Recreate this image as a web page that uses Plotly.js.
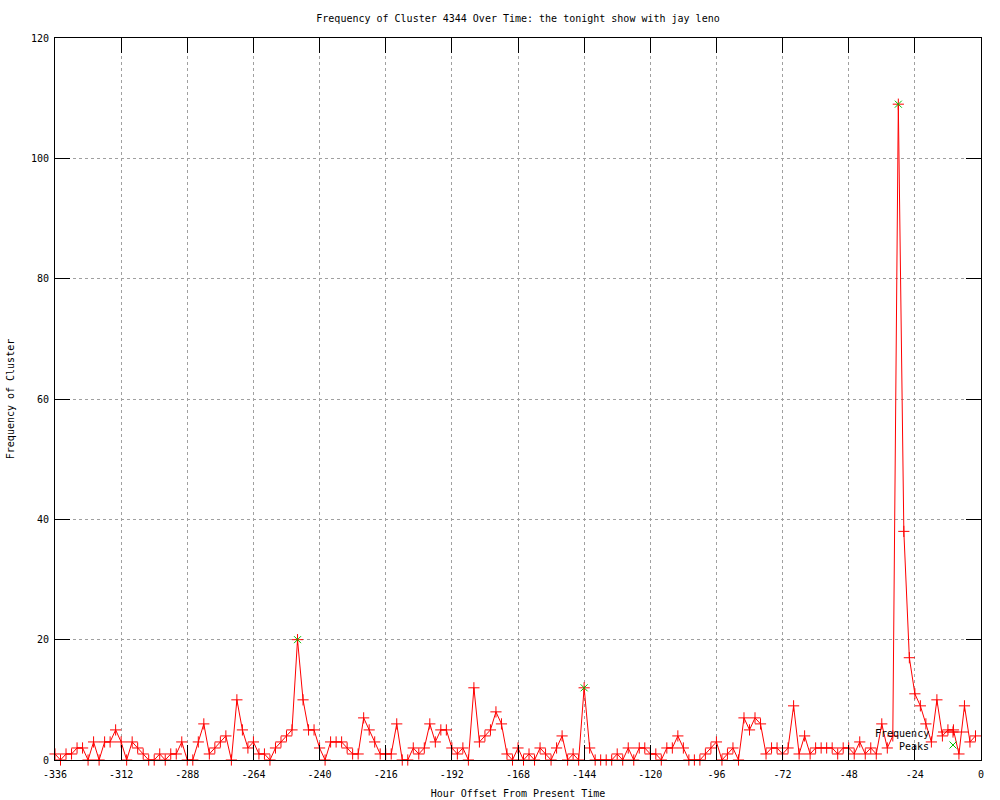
<!DOCTYPE html>
<html>
<head>
<meta charset="utf-8">
<script src="https://cdn.plot.ly/plotly-3.0.1.min.js"></script>
<style>html,body{margin:0;padding:0;background:#fff;}#chart{width:1000px;height:800px;}</style>
</head>
<body>
<div id="chart"></div>
<script>
// Hour offsets (every 2 hours)
const hours = [-336,-334,-332,-330,-328,-326,-324,-322,-320,-318,-316,-314,-312,-310,-308,-306,-304,-302,-300,-298,
-296,-294,-292,-290,-288,-286,-284,-282,-280,-278,-276,-274,-272,-270,-268,-266,-264,-262,-260,-258,
-256,-254,-252,-250,-248,-246,-244,-242,-240,-238,-236,-234,-232,-230,-228,-226,-224,-222,-220,-218,
-216,-214,-212,-210,-208,-206,-204,-202,-200,-198,-196,-194,-192,-190,-188,-186,-184,-182,-180,-178,
-176,-174,-172,-170,-168,-166,-164,-162,-160,-158,-156,-154,-152,-150,-148,-146,-144,-142,-140,-138,
-136,-134,-132,-130,-128,-126,-124,-122,-120,-118,-116,-114,-112,-110,-108,-106,-104,-102,-100,-98,
-96,-94,-92,-90,-88,-86,-84,-82,-80,-78,-76,-74,-72,-70,-68,-66,-64,-62,-60,-58,
-56,-54,-52,-50,-48,-46,-44,-42,-40,-38,-36,-34,-32,-30,-28,-26,-24,-22,-20,-18,
-16,-14,-12,-10,-8,-6,-4,-2];
const frequency = [1,0,1,1,2,2,0,3,0,3,3,5,3,0,3,2,1,0,0,1,
0,1,1,3,0,0,3,6,1,2,3,4,0,10,5,2,3,1,1,0,
2,3,4,5,20,10,5,5,2,0,3,3,3,2,1,1,7,5,3,1,
1,1,6,0,0,2,1,2,6,3,5,5,2,1,2,0,12,3,4,5,
8,6,1,0,2,0,1,0,2,1,0,2,4,0,1,0,12,2,0,0,
0,0,1,0,2,0,2,2,1,1,0,2,2,4,2,0,0,0,1,2,
3,0,1,2,0,7,5,7,6,1,2,2,1,2,9,1,4,1,2,2,
2,2,1,2,2,1,3,1,2,1,6,2,4,109,38,17,11,9,6,3,
10,4,5,5,1,9,3,4];
const peakHours = [-248, -144, -30];
const peakValues = [20, 12, 109];
const xTickVals = [-336,-312,-288,-264,-240,-216,-192,-168,-144,-120,-96,-72,-48,-24,0];
const xTickText = ["-336","-312","-288","-264","-240","-216","-192","-168","-144","-120","-96","-72","-48","-24","0"];
const legendNames = ["Frequency", "Peaks"];

const FONT = {family: "DejaVu Sans Mono, monospace", size: 10, color: "#000"};

const traces = [
  {
    x: hours, y: frequency, type: "scatter", mode: "lines+markers",
    line: {color: "#ff0000", width: 1},
    marker: {symbol: "cross-thin-open", size: 8, color: "#ff0000", line: {color: "#ff0000", width: 1}},
    cliponaxis: false, showlegend: false, hoverinfo: "x+y"
  },
  {
    x: peakHours, y: peakValues, type: "scatter", mode: "markers",
    marker: {symbol: "x-thin-open", size: 7, color: "#00c000", line: {color: "#00c000", width: 1}},
    cliponaxis: false, showlegend: false, hoverinfo: "x+y"
  },
  // legend samples on a pixel-like overlay axis
  {
    x: [938, 968], y: [732, 732], xaxis: "x2", yaxis: "y2", type: "scatter", mode: "lines",
    line: {color: "#ff0000", width: 1}, showlegend: false, hoverinfo: "skip"
  },
  {
    x: [953], y: [732], xaxis: "x2", yaxis: "y2", type: "scatter", mode: "markers",
    marker: {symbol: "cross-thin-open", size: 8, color: "#ff0000", line: {color: "#ff0000", width: 1}},
    showlegend: false, hoverinfo: "skip"
  },
  {
    x: [953], y: [745], xaxis: "x2", yaxis: "y2", type: "scatter", mode: "markers",
    marker: {symbol: "x-thin-open", size: 7, color: "#00c000", line: {color: "#00c000", width: 1}},
    showlegend: false, hoverinfo: "skip"
  }
];

const layout = {
  width: 1000, height: 800,
  margin: {l: 55, r: 19, t: 38, b: 40, pad: 0},
  paper_bgcolor: "#fff", plot_bgcolor: "#fff",
  font: FONT,
  showlegend: false,
  title: {text: "Frequency of Cluster 4344 Over Time: the tonight show with jay leno",
          font: FONT, x: 0.5, xref: "paper", xanchor: "center", y: 1 - 18/800, yref: "container", yanchor: "middle"},
  xaxis: {
    range: [-336, 0], tickvals: xTickVals, ticktext: xTickText,
    showline: true, linecolor: "#000", linewidth: 1, mirror: "ticks",
    ticks: "inside", ticklen: 15, tickcolor: "#000", tickwidth: 1,
    showgrid: true, gridcolor: "#a0a0a0", griddash: "dot", gridwidth: 1,
    zeroline: false, tickfont: FONT, ticklabelstandoff: 5,
    title: {text: "Hour Offset From Present Time", font: FONT, standoff: 10}
  },
  yaxis: {
    range: [0, 120], dtick: 20, tick0: 0,
    showline: true, linecolor: "#000", linewidth: 1, mirror: "ticks",
    ticks: "inside", ticklen: 15, tickcolor: "#000", tickwidth: 1,
    showgrid: true, gridcolor: "#a0a0a0", griddash: "dot", gridwidth: 1,
    zeroline: false, tickfont: FONT, ticklabelstandoff: 3,
    title: {text: "Frequency of Cluster", font: FONT, standoff: 14}
  },
  xaxis2: {overlaying: "x", range: [55, 981], visible: false, fixedrange: true},
  yaxis2: {overlaying: "y", range: [760, 38], visible: false, fixedrange: true},
  annotations: [
    {xref: "x2", yref: "y2", x: 931, y: 733, text: legendNames[0], showarrow: false, xanchor: "right", yanchor: "middle", font: FONT},
    {xref: "x2", yref: "y2", x: 931, y: 746, text: legendNames[1], showarrow: false, xanchor: "right", yanchor: "middle", font: FONT}
  ]
};

Plotly.newPlot("chart", traces, layout, {displayModeBar: false, staticPlot: true});
</script>
</body>
</html>
